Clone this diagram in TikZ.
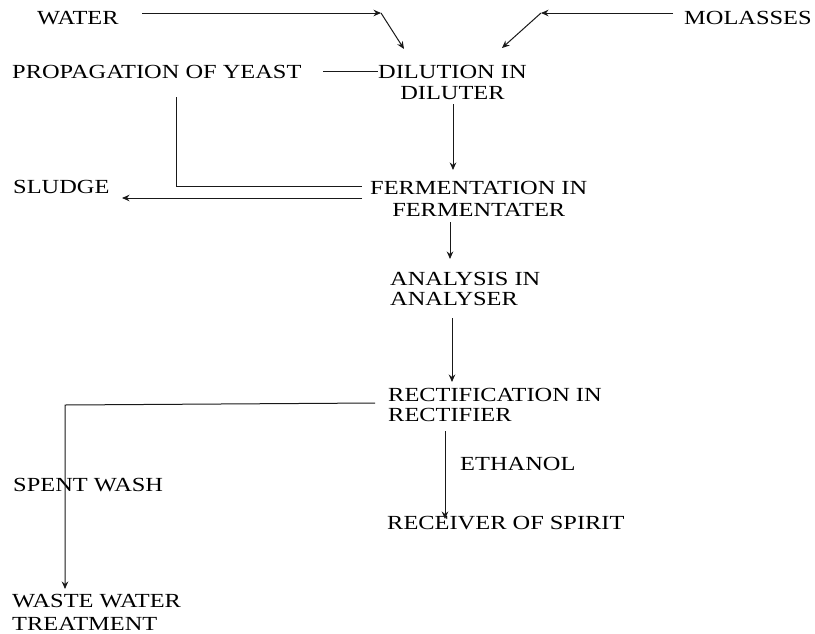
\documentclass[tikz,border=0pt]{standalone}
\usepackage{fontspec}
\setmainfont{Liberation Serif}
\usetikzlibrary{arrows.meta}
\tikzset{
  lbl/.style={inner sep=0pt, font=\fontsize{20}{22.5}\selectfont, xscale=1.22, anchor=base west, text=black},
  conn/.style={line width=1pt, draw=black!90},
  arr/.style={conn, -{Stealth[length=7.5pt,width=6.5pt]}}
}
\begin{document}
\begin{tikzpicture}[x=1pt,y=-1pt]
\useasboundingbox (0,0) rectangle (815,633);
% nodes (multi-line nodes are placed at the baseline of their last line)
\node[lbl] (water) at (37,24) {WATER};
\node[lbl] (molasses) at (684,24) {MOLASSES};
\node[lbl] (yeast) at (12,78) {PROPAGATION OF YEAST};
\node[lbl, align=center, font=\fontsize{20}{21.5}\selectfont] (dil) at (378,99.5) {DILUTION IN\\DILUTER};
\node[lbl, align=center] (ferm) at (370,216.5) {FERMENTATION IN\\FERMENTATER};
\node[lbl] (sludge) at (13,193.5) {SLUDGE};
\node[lbl, align=left, font=\fontsize{20}{20}\selectfont] (ana) at (390,305) {ANALYSIS IN\\ANALYSER};
\node[lbl, align=left, font=\fontsize{20}{20.5}\selectfont] (rect) at (388,421.5) {RECTIFICATION IN\\RECTIFIER};
\node[lbl] (ethanol) at (460,470) {ETHANOL};
\node[lbl] (spent) at (13,491) {SPENT WASH};
\node[lbl] (recv) at (387,529) {RECEIVER OF SPIRIT};
\node[lbl, align=left, font=\fontsize{20}{23}\selectfont] (waste) at (12,630) {WASTE WATER\\TREATMENT};
% coordinates
\coordinate (w1) at (142,13);
\coordinate (w2) at (381,13);
\coordinate (w3) at (404,49);
\coordinate (m1) at (673,13);
\coordinate (m2) at (541,13);
\coordinate (m3) at (502,48);
\coordinate (y1) at (323,71);
\coordinate (d1) at (378,71);
\coordinate (d2) at (453,104);
\coordinate (f0) at (453,170);
\coordinate (y2) at (176,97);
\coordinate (y3) at (176,186);
\coordinate (f1) at (362,186);
\coordinate (f2) at (362,198);
\coordinate (s1) at (122,198);
\coordinate (f3) at (450,222);
\coordinate (a0) at (450,259);
\coordinate (a1) at (452,318);
\coordinate (r0) at (452,382);
\coordinate (r1) at (375,403);
\coordinate (r2) at (65,405);
\coordinate (ww) at (65,589);
\coordinate (r3) at (445,431);
\coordinate (rc) at (445,519);
% connectors
\draw[arr] (w1) -- (w2);
\draw[arr] (w2) -- (w3);
\draw[arr] (m1) -- (m2);
\draw[arr] (m2) -- (m3);
\draw[conn] (y1) -- (d1);
\draw[arr] (d2) -- (f0);
\draw[conn] (y2) -- (y3) -- (f1);
\draw[arr] (f2) -- (s1);
\draw[arr] (f3) -- (a0);
\draw[arr] (a1) -- (r0);
\draw[arr] (r1) -- (r2) -- (ww);
\draw[arr] (r3) -- (rc);
\end{tikzpicture}
\end{document}
